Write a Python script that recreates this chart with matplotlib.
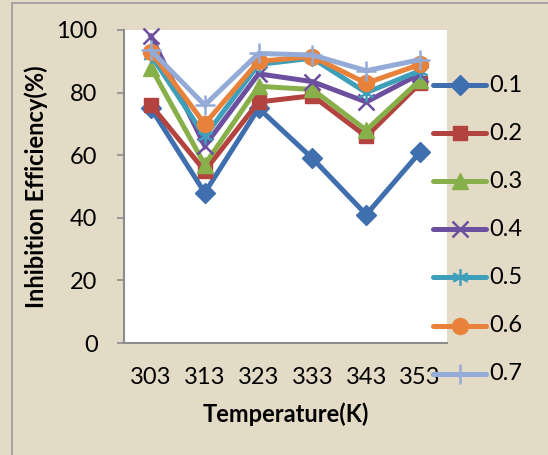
import matplotlib
matplotlib.use("Agg")
import matplotlib.pyplot as plt
from matplotlib.lines import Line2D
from matplotlib.patches import Rectangle
from matplotlib.path import Path

# Data: inhibition efficiency (%) vs temperature for each inhibitor concentration
temperatures = ["303", "313", "323", "333", "343", "353"]
conc_labels = ["0.1", "0.2", "0.3", "0.4", "0.5", "0.6", "0.7"]
ie_01 = [75, 48, 75, 59, 41, 61]
ie_02 = [76, 55, 77, 79, 66, 83]
ie_03 = [88, 57, 82, 81, 68, 84]
ie_04 = [98, 63, 86, 83.5, 77, 86]
ie_05 = [92, 66, 89, 91, 80, 87]
ie_06 = [93, 70, 90, 91.5, 83, 89]
ie_07 = [93.5, 76, 92.5, 92, 87, 90.5]
series = [ie_01, ie_02, ie_03, ie_04, ie_05, ie_06, ie_07]

colors = ["#3F6FAE", "#B3433F", "#88B04A", "#6C509F", "#3E9FBA", "#E8823A", "#93ABD6"]

# six-spoke asterisk marker
asterisk = Path([(0, -1), (0, 1), (-0.87, -0.5), (0.87, 0.5), (-0.87, 0.5), (0.87, -0.5)],
                [Path.MOVETO, Path.LINETO] * 3)
markers = ["D", "s", "^", "x", asterisk, "o", "+"]
msizes = [10.5, 10.5, 11.5, 12, 12, 11.5, 14]

bg = "#E4DBC7"
font = ["Lato", "DejaVu Sans"]
plt.rcParams["font.family"] = font
fs = 17

fig = plt.figure(figsize=(5.48, 4.55), dpi=100)
fig.patch.set_facecolor(bg)
fig.add_artist(Rectangle((12 / 548, -0.05), 1.0, 1 - 3 / 455 + 0.05,
                         transform=fig.transFigure, fill=False,
                         edgecolor="#9A9A9A", linewidth=1.2))

ax = fig.add_axes([124 / 548, 112 / 455, 323 / 548, 313 / 455])
ax.set_facecolor("white")
x = list(range(len(temperatures)))
for vals, c, m, ms in zip(series, colors, markers, msizes):
    filled = m in ("D", "s", "^", "o")
    ax.plot(x, vals, color=c, linewidth=3.6, marker=m, markersize=ms,
            markerfacecolor=c if filled else "none", markeredgecolor=c,
            markeredgewidth=1.8 if not filled else 1.0, solid_joinstyle="miter",
            clip_on=False)

ax.set_xlim(-0.5, 5.5)
ax.set_ylim(0, 100)
ax.set_yticks([0, 20, 40, 60, 80, 100])
ax.set_xticks(x)
ax.set_xticklabels(temperatures)
for s in ("top", "right"):
    ax.spines[s].set_visible(False)
for s in ("left", "bottom"):
    ax.spines[s].set_color("#8C8C8C")
    ax.spines[s].set_linewidth(1.5)
ax.tick_params(axis="y", length=5, width=1.2, color="#8C8C8C", pad=14, labelsize=fs)
ax.tick_params(axis="x", length=0, pad=17, labelsize=fs)
ax.set_xlabel("Temperature(K)", fontsize=fs, fontweight="bold", labelpad=11)
ax.set_ylabel("Inhibition Efficiency(%)", fontsize=fs, fontweight="bold", labelpad=6)

# legend drawn along the right edge
y0 = 85
pitch = 48.1
for i, (lab, c, m, ms) in enumerate(zip(conc_labels, colors, markers, msizes)):
    yy = 1 - (y0 + i * pitch) / 455
    filled = m in ("D", "s", "^", "o")
    fig.add_artist(Line2D([433 / 548, 486 / 548], [yy, yy], transform=fig.transFigure,
                          color=c, linewidth=3.6, solid_capstyle="round"))
    fig.add_artist(Line2D([459.5 / 548], [yy], transform=fig.transFigure, color=c,
                          marker=m, markersize=ms,
                          markerfacecolor=c if filled else "none", markeredgecolor=c,
                          markeredgewidth=1.8 if not filled else 1.0))
    fig.text(489 / 548, yy, lab, fontsize=fs, va="center", ha="left")

fig.savefig("out.png", dpi=100, facecolor=bg)
